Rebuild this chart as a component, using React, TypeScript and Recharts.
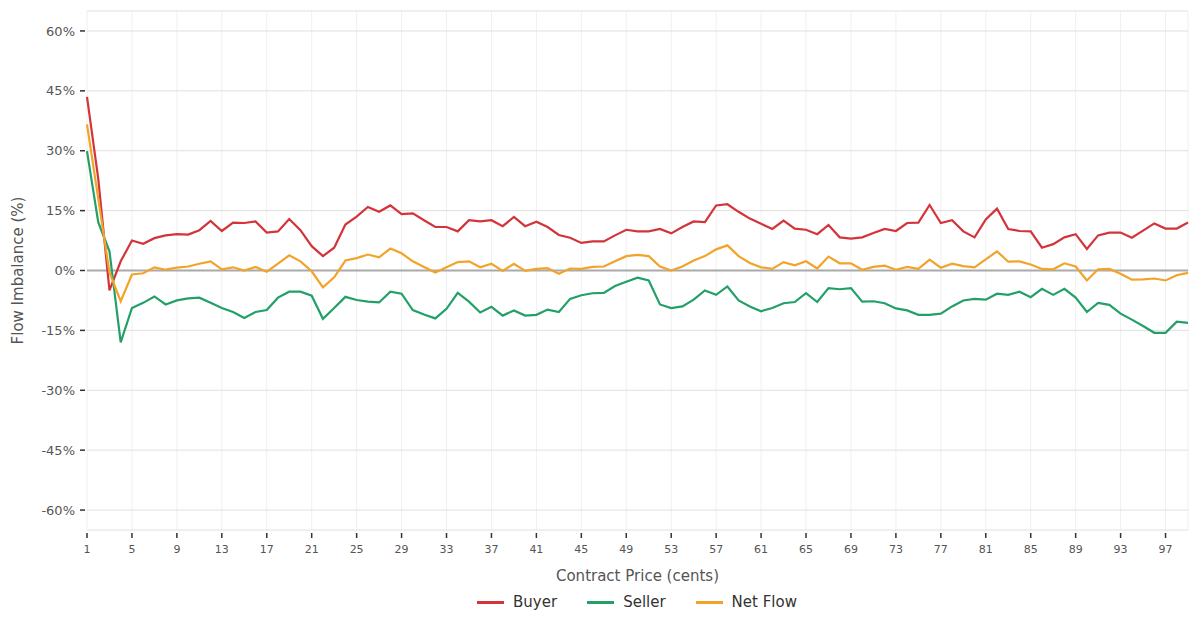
import React from 'react';
import {
  LineChart,
  Line,
  XAxis,
  YAxis,
  CartesianGrid,
  ReferenceLine,
  Legend,
} from 'recharts';

// contract price in cents, 1..99
const prices: number[] = Array.from({ length: 99 }, (_, i) => i + 1);

const buyer: number[] = [
  43.5, 23.0, -5.0, 2.3, 7.5, 6.7, 8.1, 8.8, 9.1, 9.0,
  10.1, 12.4, 9.9, 12.0, 11.9, 12.3, 9.5, 9.8, 12.9, 10.1,
  6.1, 3.6, 5.7, 11.5, 13.5, 15.9, 14.7, 16.3, 14.1, 14.3,
  12.6, 10.9, 10.9, 9.8, 12.6, 12.3, 12.6, 11.1, 13.4, 11.1,
  12.2, 10.9, 8.9, 8.2, 6.9, 7.3, 7.3, 8.8, 10.2, 9.8,
  9.8, 10.4, 9.3, 10.9, 12.3, 12.1, 16.3, 16.6, 14.7, 13.0,
  11.7, 10.4, 12.5, 10.5, 10.2, 9.1, 11.4, 8.3, 8.0, 8.3,
  9.4, 10.4, 9.9, 11.9, 12.0, 16.4, 11.9, 12.6, 9.8, 8.3,
  12.8, 15.5, 10.4, 9.9, 9.8, 5.7, 6.6, 8.3, 9.1, 5.4,
  8.8, 9.5, 9.5, 8.2, 10.0, 11.8, 10.5, 10.5, 12.0,
];

const seller: number[] = [
  29.9, 12.1, 4.8, -18.0, -9.4, -8.1, -6.5, -8.5, -7.5, -7.0,
  -6.8, -8.1, -9.4, -10.4, -11.9, -10.4, -9.9, -6.8, -5.3, -5.3,
  -6.3, -12.1, -9.4, -6.6, -7.4, -7.8, -8.0, -5.3, -5.8, -9.9,
  -11.0, -12.0, -9.6, -5.6, -7.8, -10.5, -9.1, -11.3, -10.0, -11.3,
  -11.1, -9.8, -10.4, -7.1, -6.2, -5.7, -5.6, -3.9, -2.8, -1.8,
  -2.5, -8.5, -9.4, -9.0, -7.3, -5.0, -6.1, -4.0, -7.5, -9.0,
  -10.2, -9.4, -8.2, -7.9, -5.7, -7.9, -4.4, -4.7, -4.4, -7.8,
  -7.7, -8.2, -9.5, -10.0, -11.1, -11.1, -10.8, -9.0, -7.5, -7.1,
  -7.3, -5.8, -6.1, -5.3, -6.7, -4.6, -6.1, -4.6, -6.8, -10.4,
  -8.1, -8.6, -10.8, -12.3, -13.9, -15.6, -15.6, -12.8, -13.1,
];

const netFlow: number[] = [
  36.6, 18.0, -0.5, -7.7, -1.0, -0.7, 0.8, 0.2, 0.7, 1.0,
  1.7, 2.3, 0.3, 0.8, 0.0, 0.9, -0.3, 1.7, 3.8, 2.3,
  -0.2, -4.2, -1.7, 2.5, 3.1, 4.0, 3.3, 5.5, 4.3, 2.3,
  0.9, -0.5, 0.8, 2.1, 2.3, 0.8, 1.7, -0.1, 1.7, -0.1,
  0.4, 0.6, -0.8, 0.5, 0.4, 0.9, 1.0, 2.3, 3.6, 3.9,
  3.6, 1.0, 0.0, 1.0, 2.5, 3.6, 5.3, 6.3, 3.6, 1.9,
  0.8, 0.4, 2.1, 1.3, 2.3, 0.5, 3.5, 1.8, 1.8, 0.2,
  0.9, 1.2, 0.2, 0.9, 0.4, 2.7, 0.7, 1.7, 1.1, 0.8,
  2.8, 4.8, 2.2, 2.3, 1.5, 0.4, 0.3, 1.8, 1.0, -2.5,
  0.3, 0.4, -0.8, -2.3, -2.2, -2.0, -2.5, -1.2, -0.6,
];

const xTicks: number[] = [1, 5, 9, 13, 17, 21, 25, 29, 33, 37, 41, 45, 49, 53, 57, 61, 65, 69, 73, 77, 81, 85, 89, 93, 97];
const yTicks: number[] = [-60, -45, -30, -15, 0, 15, 30, 45, 60];

const series = [
  { key: 'buyer', name: 'Buyer', color: '#d3343a' },
  { key: 'seller', name: 'Seller', color: '#22a067' },
  { key: 'net', name: 'Net Flow', color: '#f2a32a' },
];

const data = prices.map((p, i) => ({
  price: p,
  buyer: buyer[i],
  seller: seller[i],
  net: netFlow[i],
}));

const FONT = '"DejaVu Sans", sans-serif';

const XTick = (props: any) => {
  const { x, y, payload } = props;
  return (
    <g>
      <line x1={x} x2={x} y1={y + 3} y2={y + 8} stroke="#333" strokeWidth={1.5} />
      <text x={x} y={y + 19} textAnchor="middle" dy="0.35em" fontSize={11} fill="#555" fontFamily={FONT}>
        {payload.value}
      </text>
    </g>
  );
};

const YTick = (props: any) => {
  const { x, y, payload } = props;
  return (
    <g>
      <line x1={x - 7} x2={x - 2} y1={y} y2={y} stroke="#333" strokeWidth={1.5} />
      <text x={x - 12} y={y} textAnchor="end" dy="0.35em" fontSize={13} fill="#555" fontFamily={FONT}>
        {`${payload.value}%`}
      </text>
    </g>
  );
};

// legend is centred under the plot area, not the whole chart
const LegendContent = () => (
  <div
    style={{
      height: 40,
      display: 'flex',
      justifyContent: 'center',
      alignItems: 'flex-start',
      paddingTop: 4,
      paddingLeft: 86,
      boxSizing: 'border-box',
      fontFamily: FONT,
      fontSize: 15,
      color: '#333',
    }}
  >
    {series.map((s) => (
      <div key={s.key} style={{ display: 'flex', alignItems: 'center', margin: '0 15px' }}>
        <span style={{ display: 'inline-block', width: 27, height: 3, background: s.color, marginRight: 9 }} />
        <span>{s.name}</span>
      </div>
    ))}
  </div>
);

export default function App() {
  return (
    <div style={{ width: 1200, height: 629, background: '#fff' }}>
      <style>{'body{margin:0}'}</style>
      <LineChart width={1200} height={629} data={data} margin={{ top: 11, right: 12, left: 0, bottom: 0 }}>
        <CartesianGrid horizontal={false} stroke="#f0f0f0" strokeWidth={1} />
        <CartesianGrid vertical={false} stroke="#e0e0e0" strokeWidth={1} />
        <XAxis
          dataKey="price"
          type="number"
          domain={[1, 99]}
          ticks={xTicks}
          interval={0}
          height={59}
          axisLine={false}
          tickLine={false}
          tickSize={0}
          tickMargin={0}
          tick={<XTick />}
          label={{
            content: (p: any) => (
              <text
                x={p.viewBox.x + p.viewBox.width / 2}
                y={576}
                textAnchor="middle"
                dy="0.35em"
                fontSize={15}
                fill="#555"
                fontFamily={FONT}
              >
                Contract Price (cents)
              </text>
            ),
          }}
        />
        <YAxis
          type="number"
          domain={[-65, 65]}
          ticks={yTicks}
          interval={0}
          width={87}
          axisLine={false}
          tickLine={false}
          tickSize={0}
          tickMargin={0}
          tick={<YTick />}
          label={{
            content: (p: any) => {
              const cy = p.viewBox.y + p.viewBox.height / 2;
              return (
                <text
                  x={18}
                  y={cy}
                  transform={`rotate(-90 18 ${cy})`}
                  textAnchor="middle"
                  dy="0.35em"
                  fontSize={15}
                  fill="#555"
                  fontFamily={FONT}
                >
                  Flow Imbalance (%)
                </text>
              );
            },
          }}
        />
        <ReferenceLine y={0} stroke="#aaaaaa" strokeWidth={2} />
        {series.map((s) => (
          <Line
            key={s.key}
            type="linear"
            dataKey={s.key}
            name={s.name}
            stroke={s.color}
            strokeWidth={2.2}
            dot={false}
            activeDot={false}
            isAnimationActive={false}
          />
        ))}
        <Legend verticalAlign="bottom" align="center" content={<LegendContent />} />
      </LineChart>
    </div>
  );
}
